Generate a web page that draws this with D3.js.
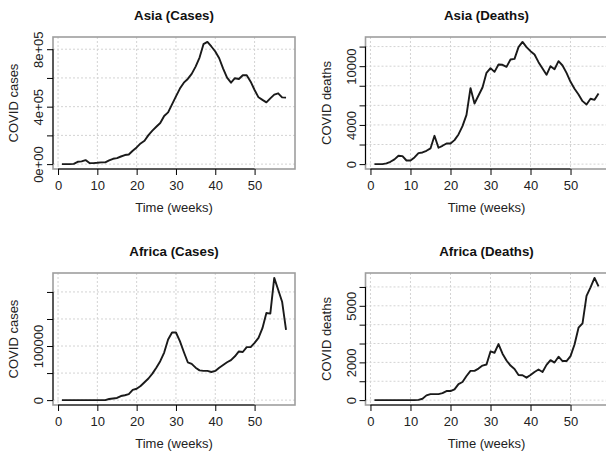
<!DOCTYPE html>
<html>
<head>
<meta charset="utf-8">
<script src="https://cdn.jsdelivr.net/npm/d3@7"></script>
<style>
  body { margin: 0; background: #fff; }
  svg { display: block; font-family: "Liberation Sans", Arial, sans-serif; }
</style>
</head>
<body>
<svg id="chart" width="606" height="453"></svg>
<script>
// weekly values
var asiaCases = [0, 0, 0, 2000, 16000, 19000, 28000, 7000, 7000, 9000, 12000, 12000, 26000, 37000, 42000,
  53000, 63000, 67000, 93000, 116000, 144000, 163000, 202000, 233000, 260000, 286000, 335000, 360000,
  416000, 472000, 526000, 567000, 593000, 628000, 679000, 742000, 835000, 851000, 819000, 784000, 737000,
  665000, 602000, 567000, 598000, 593000, 619000, 619000, 574000, 516000, 465000, 447000, 430000, 458000,
  484000, 493000, 465000, 463000];
var asiaDeaths = [0, 0, 0, 70, 240, 480, 850, 820, 370, 370, 680, 1120, 1190, 1360, 1600, 2890, 1670, 1870,
  2110, 2110, 2450, 3030, 3880, 5030, 7760, 6190, 7010, 7820, 9320, 9800, 9420, 10170, 10140, 9930, 10680,
  10750, 11940, 12480, 11940, 11530, 11190, 10410, 9760, 9120, 10000, 9690, 10510, 10070, 9320, 8400, 7690,
  7110, 6430, 6090, 6670, 6560, 7210];
var africaCases = [0, 0, 0, 0, 0, 0, 0, 0, 0, 0, 0, 0, 2000, 3000, 4000, 7500, 9000, 11000, 19000, 21000,
  26000, 33000, 40000, 49000, 60000, 72000, 88000, 112000, 125000, 125000, 109000, 89000, 70000, 67000,
  60000, 55000, 54000, 54000, 52000, 54000, 60000, 65000, 70000, 74000, 81000, 90000, 89000, 98000, 98000,
  106000, 115000, 133000, 161000, 160000, 226000, 204000, 182000, 130000];
var africaDeaths = [0, 0, 0, 0, 0, 0, 0, 0, 0, 0, 0, 15, 70, 250, 320, 320, 320, 370, 480, 480, 570, 850,
  960, 1280, 1550, 1550, 1670, 1830, 1890, 2580, 2510, 2970, 2460, 2100, 1830, 1650, 1330, 1320, 1190, 1330,
  1490, 1620, 1490, 1870, 2120, 1990, 2300, 2070, 2070, 2330, 2950, 3840, 4070, 5530, 5980, 6480, 6030];

var xTicks = [0, 10, 20, 30, 40, 50];

var asiaCasesTicks = [0, 200000, 400000, 600000, 800000];
var asiaCasesLabelAt = [0, 400000, 800000];
var asiaCasesLabels = ["0e+00", "4e+05", "8e+05"];

var asiaDeathsTicks = [0, 2000, 4000, 6000, 8000, 10000, 12000];
var asiaDeathsLabelAt = [0, 4000, 10000];
var asiaDeathsLabels = ["0", "4000", "10000"];

var africaCasesTicks = [0, 50000, 100000, 150000, 200000];
var africaCasesLabelAt = [0, 100000];
var africaCasesLabels = ["0", "100000"];

var africaDeathsTicks = [0, 1000, 2000, 3000, 4000, 5000, 6000];
var africaDeathsLabelAt = [0, 2000, 5000];
var africaDeathsLabels = ["0", "2000", "5000"];

var svg = d3.select("svg#chart");
var boxW = 242, boxH = 132;

function pad(ext) {
  var r = ext[1] - ext[0];
  return [ext[0] - 0.04 * r, ext[1] + 0.04 * r];
}

function drawPanel(left, top, title, yTitle, values, yTicks, labelAt, labels) {
  var weeks = d3.range(1, values.length + 1);
  var x = d3.scaleLinear().domain(pad(d3.extent(weeks))).range([left, left + boxW]);
  var y = d3.scaleLinear().domain(pad([0, d3.max(values)])).range([top + boxH, top]);
  var g = svg.append("g");

  // dotted grid
  g.selectAll("line.gx").data(xTicks).enter().append("line")
    .attr("x1", function (d) { return x(d); }).attr("x2", function (d) { return x(d); })
    .attr("y1", top).attr("y2", top + boxH)
    .attr("stroke", "#d3d3d3").attr("stroke-dasharray", "2,2");
  g.selectAll("line.gy").data(yTicks).enter().append("line")
    .attr("x1", left).attr("x2", left + boxW)
    .attr("y1", function (d) { return y(d); }).attr("y2", function (d) { return y(d); })
    .attr("stroke", "#d3d3d3").attr("stroke-dasharray", "2,2");

  var line = d3.line()
    .x(function (d, i) { return x(weeks[i]); })
    .y(function (d) { return y(d); });
  g.append("path")
    .attr("d", line(values))
    .attr("fill", "none")
    .attr("stroke", "#1a1a1a")
    .attr("stroke-width", 1.9)
    .attr("stroke-linejoin", "round");

  g.append("rect")
    .attr("x", left).attr("y", top)
    .attr("width", boxW).attr("height", boxH)
    .attr("fill", "none").attr("stroke", "#9e9e9e").attr("stroke-width", 1.6);

  // x axis
  var xa = g.append("g")
    .attr("transform", "translate(0," + (top + boxH) + ")")
    .call(d3.axisBottom(x).tickValues(xTicks).tickSize(6).tickSizeOuter(0).tickPadding(5.5));
  xa.select(".domain").attr("d", "M" + x(xTicks[0]) + ",0H" + x(xTicks[xTicks.length - 1]));
  xa.selectAll("text").attr("font-size", "13px").attr("fill", "#222");

  // y axis, labels only where R kept them
  var ya = g.append("g")
    .attr("transform", "translate(" + left + ",0)")
    .call(d3.axisLeft(y).tickValues(yTicks).tickSize(6).tickSizeOuter(0)
      .tickFormat(function (d) {
        var k = labelAt.indexOf(d);
        return k < 0 ? "" : labels[k];
      }));
  ya.select(".domain").attr("d", "M0," + y(yTicks[0]) + "V" + y(yTicks[yTicks.length - 1]));
  ya.selectAll("text")
    .attr("transform", "rotate(-90)")
    .attr("x", 0).attr("y", -10).attr("dy", null)
    .attr("text-anchor", "middle")
    .attr("font-size", "13px").attr("fill", "#222");

  g.append("text")
    .attr("x", left + boxW / 2).attr("y", top - 17)
    .attr("text-anchor", "middle")
    .attr("font-weight", "bold").attr("font-size", "13.3px").attr("fill", "#111")
    .text(title);
  g.append("text")
    .attr("x", left + boxW / 2).attr("y", top + boxH + 42.5)
    .attr("text-anchor", "middle")
    .attr("font-size", "13px").attr("fill", "#222")
    .text("Time (weeks)");
  g.append("text")
    .attr("transform", "translate(" + (left - 35) + "," + (top + boxH / 2) + ") rotate(-90)")
    .attr("text-anchor", "middle")
    .attr("font-size", "13px").attr("fill", "#222")
    .text(yTitle);
}

drawPanel(53, 37, "Asia (Cases)", "COVID cases", asiaCases, asiaCasesTicks, asiaCasesLabelAt, asiaCasesLabels);
drawPanel(365.5, 37, "Asia (Deaths)", "COVID deaths", asiaDeaths, asiaDeathsTicks, asiaDeathsLabelAt, asiaDeathsLabels);
drawPanel(53, 273, "Africa (Cases)", "COVID cases", africaCases, africaCasesTicks, africaCasesLabelAt, africaCasesLabels);
drawPanel(365.5, 273, "Africa (Deaths)", "COVID deaths", africaDeaths, africaDeathsTicks, africaDeathsLabelAt, africaDeathsLabels);
</script>
</body>
</html>
